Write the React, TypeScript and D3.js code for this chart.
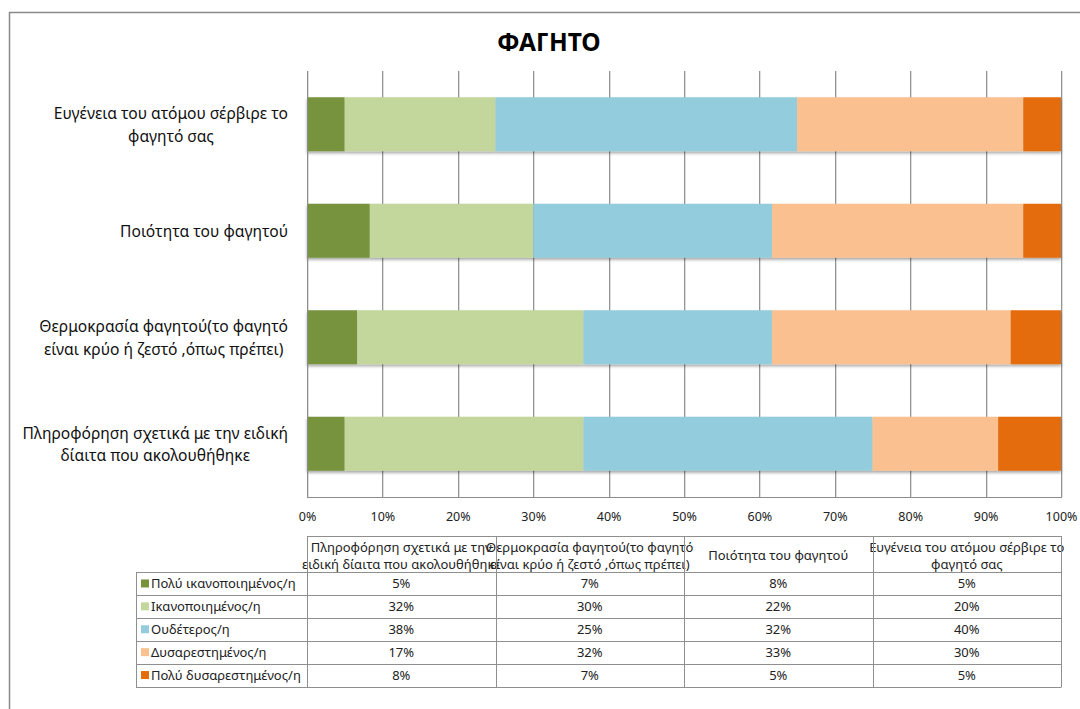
import React, { useEffect, useRef } from "react";
import * as d3 from "d3";

const title = "ΦΑΓΗΤΟ";
// data order (Excel order: first category drawn at bottom)
const categories = [
  "Πληροφόρηση σχετικά με την ειδική δίαιτα που ακολουθήθηκε",
  "Θερμοκρασία φαγητού(το φαγητό είναι κρύο ή ζεστό ,όπως πρέπει)",
  "Ποιότητα του φαγητού",
  "Ευγένεια του ατόμου σέρβιρε το φαγητό σας",
];
const axisLabelLines = [
  ["Πληροφόρηση σχετικά με την ειδική", "δίαιτα που ακολουθήθηκε"],
  ["Θερμοκρασία φαγητού(το φαγητό", "είναι κρύο ή ζεστό ,όπως πρέπει)"],
  ["Ποιότητα του φαγητού"],
  ["Ευγένεια του ατόμου σέρβιρε το", "φαγητό σας"],
];
const tableHeaderLines = [
  ["Πληροφόρηση σχετικά με την", "ειδική δίαιτα που ακολουθήθηκε"],
  ["Θερμοκρασία φαγητού(το φαγητό", "είναι κρύο ή ζεστό ,όπως πρέπει)"],
  ["Ποιότητα του φαγητού"],
  ["Ευγένεια του ατόμου σέρβιρε το", "φαγητό σας"],
];
const seriesNames = [
  "Πολύ ικανοποιημένος/η",
  "Ικανοποιημένος/η",
  "Ουδέτερος/η",
  "Δυσαρεστημένος/η",
  "Πολύ δυσαρεστημένος/η",
];
const veryPleased = [5, 6.67, 8.33, 5];
const pleased = [31.67, 30, 21.67, 20];
const neutral = [38.33, 25, 31.67, 40];
const displeased = [16.67, 31.67, 33.33, 30];
const veryDispleased = [8.33, 6.67, 5, 5];
const seriesValues = [veryPleased, pleased, neutral, displeased, veryDispleased];
const colors = ["#77933C", "#C3D69B", "#93CDDD", "#FAC090", "#E46C0A"];
const xTicks = [0, 0.1, 0.2, 0.3, 0.4, 0.5, 0.6, 0.7, 0.8, 0.9, 1];

const W = 1080;
const H = 709;
const FONT = "'Noto Sans', 'DejaVu Sans', sans-serif";

export default function App() {
  const ref = useRef<SVGSVGElement | null>(null);

  useEffect(() => {
    const svg = d3.select(ref.current);
    svg.selectAll("*").remove();

    const plot = { left: 307, right: 1061, top: 71, bottom: 497 };

    const defs = svg.append("defs");
    const f = defs
      .append("filter")
      .attr("id", "shadow")
      .attr("x", "-5%")
      .attr("y", "-20%")
      .attr("width", "110%")
      .attr("height", "150%");
    f.append("feDropShadow")
      .attr("dx", 0)
      .attr("dy", 2)
      .attr("stdDeviation", 1.5)
      .attr("flood-color", "#000")
      .attr("flood-opacity", 0.35);

    svg
      .append("rect")
      .attr("width", W)
      .attr("height", H)
      .attr("fill", "#fff");

    // outer chart border
    svg
      .append("rect")
      .attr("x", 9.5)
      .attr("y", 12.5)
      .attr("width", 1200)
      .attr("height", 900)
      .attr("fill", "none")
      .attr("stroke", "#8a8a8a")
      .attr("stroke-width", 1.5);

    // title
    svg
      .append("text")
      .attr("x", 549)
      .attr("y", 51)
      .attr("text-anchor", "middle")
      .attr("font-family", FONT)
      .attr("font-weight", "bold")
      .attr("font-size", 24.5)
      .attr("fill", "#000")
      .text(title);

    const x = d3.scaleLinear().domain([0, 1]).range([plot.left, plot.right]);
    const y = d3
      .scaleBand<string>()
      .domain(categories.slice().reverse())
      .range([plot.top, plot.bottom])
      .padding(0);
    const barH = y.bandwidth() * 0.507;

    // gridlines
    const grid = svg.append("g");
    xTicks.forEach((t) => {
      const gx = Math.round(x(t)) + 0.5;
      grid
        .append("line")
        .attr("x1", gx + 1)
        .attr("x2", gx + 1)
        .attr("y1", plot.top)
        .attr("y2", plot.bottom)
        .attr("stroke", "#dedede");
      grid
        .append("line")
        .attr("x1", gx)
        .attr("x2", gx)
        .attr("y1", plot.top)
        .attr("y2", plot.bottom)
        .attr("stroke", "#949494");
    });

    // stacked data
    const rows = categories.map((c, i) => {
      const r: any = { cat: c };
      seriesNames.forEach((s, k) => (r[s] = seriesValues[k][i]));
      return r;
    });
    const stack = d3
      .stack<any>()
      .keys(seriesNames)
      .order(d3.stackOrderNone)
      .offset(d3.stackOffsetExpand);
    const stacked = stack(rows);

    const barsG = svg.append("g").attr("filter", "url(#shadow)");
    stacked.forEach((s, k) => {
      barsG
        .append("g")
        .attr("fill", colors[k])
        .selectAll("rect")
        .data(s)
        .join("rect")
        .attr("x", (d) => x(d[0]))
        .attr("width", (d) => x(d[1]) - x(d[0]))
        .attr("y", (d) => (y(d.data.cat) as number) + (y.bandwidth() - barH) / 2)
        .attr("height", barH);
    });

    // axis lines
    svg
      .append("line")
      .attr("x1", plot.left)
      .attr("x2", plot.right + 1)
      .attr("y1", plot.bottom + 0.5)
      .attr("y2", plot.bottom + 0.5)
      .attr("stroke", "#8c8c8c");
    svg
      .append("line")
      .attr("x1", plot.left + 0.5)
      .attr("x2", plot.left + 0.5)
      .attr("y1", plot.top)
      .attr("y2", plot.bottom)
      .attr("stroke", "#8c8c8c");

    // x axis labels
    const ax = svg
      .append("g")
      .attr("transform", `translate(0,${plot.bottom})`)
      .call(
        d3
          .axisBottom(x)
          .tickValues(xTicks)
          .tickFormat(d3.format(".0%"))
          .tickSize(0)
          .tickPadding(15)
      );
    ax.select(".domain").remove();
    ax.selectAll("text")
      .attr("font-family", FONT)
      .attr("font-size", 12.5)
      .attr("fill", "#222");

    // category labels
    const labG = svg.append("g");
    categories.forEach((c, i) => {
      const lines = axisLabelLines[i];
      const cy = (y(c) as number) + y.bandwidth() / 2;
      const lh = 22.5;
      const texts = lines.map((ln, j) =>
        labG
          .append("text")
          .attr("font-family", FONT)
          .attr("font-size", 15.6)
          .attr("fill", "#111")
          .attr("text-anchor", "middle")
          .attr("dominant-baseline", "central")
          .attr("y", cy + (j - (lines.length - 1) / 2) * lh)
          .text(ln)
      );
      const maxW = d3.max(texts, (t) => (t.node() as SVGTextElement).getComputedTextLength()) || 0;
      texts.forEach((t) => t.attr("x", 288 - maxW / 2));
    });

    // data table
    const tbl = svg.append("g");
    const colX = d3.scaleBand<string>().domain(categories).range([plot.left, plot.right]);
    const headTop = 536;
    const rowTop = 572;
    const rowH = 22.9;
    const legLeft = 136;
    const lineColor = "#8f8f8f";
    const TFS = 13;

    // header texts
    categories.forEach((c, i) => {
      const cx = (colX(c) as number) + colX.bandwidth() / 2;
      const lines = tableHeaderLines[i];
      const cy = (headTop + rowTop) / 2 + 1;
      lines.forEach((ln, j) => {
        tbl
          .append("text")
          .attr("x", cx)
          .attr("y", cy + (j - (lines.length - 1) / 2) * 17)
          .attr("text-anchor", "middle")
          .attr("dominant-baseline", "central")
          .attr("font-family", FONT)
          .attr("font-size", TFS)
          .attr("fill", "#222")
          .text(ln);
      });
    });

    // rows
    seriesNames.forEach((s, k) => {
      const ry = rowTop + k * rowH;
      const cy = ry + rowH / 2;
      tbl
        .append("rect")
        .attr("x", 141)
        .attr("y", cy - 4)
        .attr("width", 8)
        .attr("height", 8)
        .attr("fill", colors[k]);
      tbl
        .append("text")
        .attr("x", 151)
        .attr("y", cy)
        .attr("dominant-baseline", "central")
        .attr("font-family", FONT)
        .attr("font-size", TFS)
        .attr("fill", "#222")
        .text(s);
      categories.forEach((c, i) => {
        tbl
          .append("text")
          .attr("x", (colX(c) as number) + colX.bandwidth() / 2)
          .attr("y", cy)
          .attr("text-anchor", "middle")
          .attr("dominant-baseline", "central")
          .attr("font-family", FONT)
          .attr("font-size", TFS)
          .attr("fill", "#222")
          .text(Math.round(seriesValues[k][i]) + "%");
      });
    });

    // table lines
    tbl
      .append("line")
      .attr("x1", plot.left)
      .attr("x2", plot.right)
      .attr("y1", headTop + 0.5)
      .attr("y2", headTop + 0.5)
      .attr("stroke", lineColor);
    d3.range(seriesNames.length + 1).forEach((k) => {
      const ly = Math.round(rowTop + k * rowH) + 0.5;
      tbl
        .append("line")
        .attr("x1", legLeft)
        .attr("x2", plot.right)
        .attr("y1", ly)
        .attr("y2", ly)
        .attr("stroke", lineColor);
    });
    const bottomY = Math.round(rowTop + seriesNames.length * rowH) + 0.5;
    tbl
      .append("line")
      .attr("x1", legLeft + 0.5)
      .attr("x2", legLeft + 0.5)
      .attr("y1", rowTop)
      .attr("y2", bottomY)
      .attr("stroke", lineColor);
    [...categories.map((c) => colX(c) as number), plot.right].forEach((vx) => {
      tbl
        .append("line")
        .attr("x1", Math.round(vx) + 0.5)
        .attr("x2", Math.round(vx) + 0.5)
        .attr("y1", headTop)
        .attr("y2", bottomY)
        .attr("stroke", lineColor);
    });
  }, []);

  return (
    <svg
      ref={ref}
      width={W}
      height={H}
      style={{ position: "absolute", left: 0, top: 0, display: "block" }}
    />
  );
}
